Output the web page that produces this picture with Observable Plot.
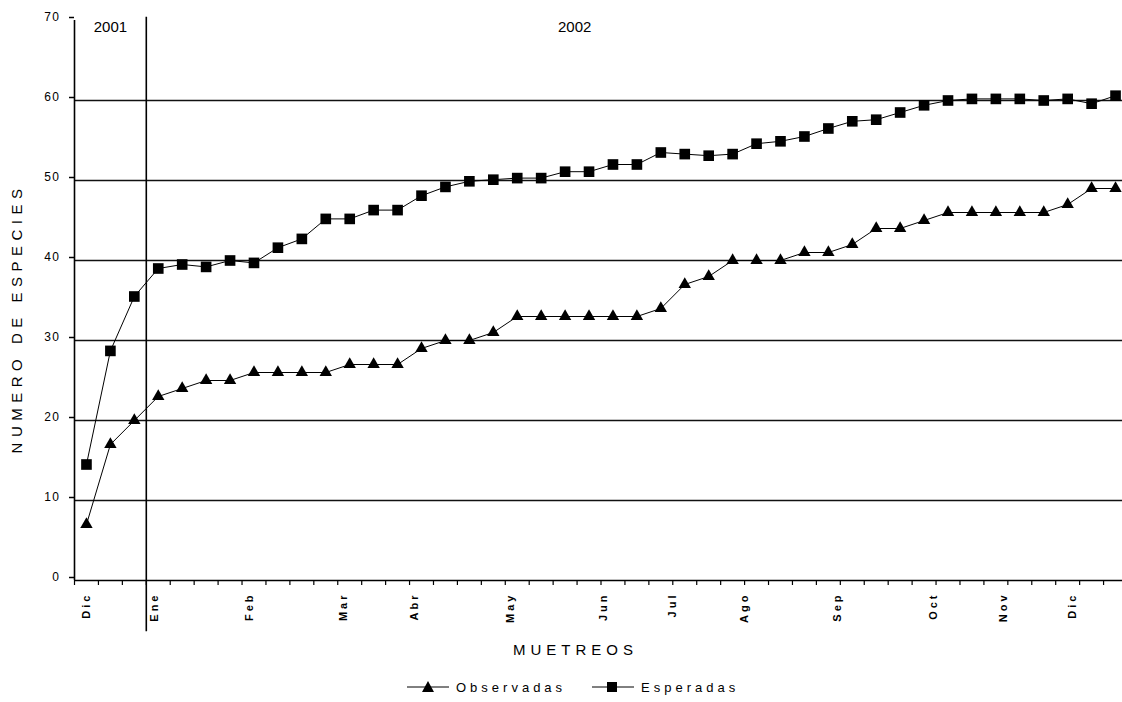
<!DOCTYPE html>
<html>
<head>
<meta charset="utf-8">
<script src="https://cdn.jsdelivr.net/npm/d3@7"></script>
<script src="https://cdn.jsdelivr.net/npm/@observablehq/plot@0.6"></script>
<style>
  html, body { margin: 0; padding: 0; background: #fff; overflow: hidden; }
  #wrap { position: relative; width: 1122px; height: 702px; font-family: "Liberation Sans", Arial, sans-serif; color: #000; }
  #chart svg { display: block; overflow: hidden; }
  .xt { position: absolute; left: 513px; top: 642px; font-size: 15px; line-height: 15px; letter-spacing: 5px; white-space: nowrap; }
  .lg { position: absolute; top: 681px; font-size: 13px; line-height: 13px; letter-spacing: 4px; white-space: nowrap; }
  .sym { position: absolute; top: 680px; }
</style>
</head>
<body>
<div id="wrap">
  <div id="chart"></div>
  <div class="xt">MUETREOS</div>
  <svg class="sym" style="left:405px" width="46" height="14"><line x1="2" x2="44" y1="7" y2="7" stroke="#000" stroke-width="1"/><path d="M23,1 L29,12 L17,12 Z" fill="#000"/></svg>
  <div class="lg" style="left:456px">Observadas</div>
  <svg class="sym" style="left:590px" width="46" height="14"><line x1="2" x2="44" y1="7" y2="7" stroke="#000" stroke-width="1"/><rect x="17" y="2" width="10" height="10" fill="#000"/></svg>
  <div class="lg" style="left:641px">Esperadas</div>
</div>
<script>
// Sampling events (category index) and series values
const sampleIndex = [0,1,2,3,4,5,6,7,8,9,10,11,12,13,14,15,16,17,18,19,20,21,22,23,24,25,26,27,28,29,30,31,32,33,34,35,36,37,38,39,40,41,42,43];
const observadas = [7,17,20,23,24,25,25,26,26,26,26,27,27,27,29,30,30,31,33,33,33,33,33,33,34,37,38,40,40,40,41,41,42,44,44,45,46,46,46,46,46,47,49,49];
const esperadas = [14.5,28.7,35.5,39,39.5,39.2,40,39.7,41.6,42.7,45.2,45.2,46.3,46.3,48.1,49.2,49.9,50.1,50.3,50.3,51.1,51.1,52,52,53.5,53.3,53.1,53.3,54.6,54.9,55.5,56.5,57.4,57.6,58.5,59.4,60,60.2,60.2,60.2,60,60.2,59.6,60.6];

// Month tick labels and their positions along the sample axis
const monthLabels = ["Dic","Ene","Feb","Mar","Abr","May","Jun","Jul","Ago","Sep","Oct","Nov","Dic"];
const monthPositions = [0, 2.84, 6.81, 10.74, 13.7, 17.7, 21.6, 24.5, 27.5, 31.4, 35.4, 38.3, 41.2];

// Year labels
const yearLabels = ["2001", "2002"];
const yearPositions = [1.0, 20.4];
const yearBoundary = 2.5;

// Y axis ticks and grid
const yTicks = [0,10,20,30,40,50,60,70];
const gridValues = [10,20,30,40,50,60];

const xTicks = sampleIndex.map(i => i - 0.5).concat([sampleIndex.length - 0.5]);

const obsData = sampleIndex.map((i, k) => ({i, v: observadas[k]}));
const espData = sampleIndex.map((i, k) => ({i, v: esperadas[k]}));
const months = monthLabels.map((label, k) => ({label, pos: monthPositions[k]}));
const years = yearLabels.map((label, k) => ({label, pos: yearPositions[k]}));

const plot = Plot.plot({
  width: 1122,
  height: 640,
  marginLeft: 74,
  marginRight: -5,
  marginTop: 20,
  marginBottom: 60,
  x: {domain: [-0.5, 43.5], axis: null},
  y: {domain: [0, 70], axis: null},
  style: {fontFamily: "'Liberation Sans', Arial, sans-serif", color: "#000", background: "#fff"},
  marks: [
    Plot.ruleY(gridValues, {stroke: "#111", strokeWidth: 1.6}),
    Plot.ruleY([0], {stroke: "#000", strokeWidth: 1.6}),
    Plot.ruleX([-0.5], {y1: 0, y2: 70, stroke: "#000", strokeWidth: 1.6}),
    Plot.ruleX([yearBoundary], {y1: -6.4, y2: 70.4, stroke: "#000", strokeWidth: 1.6}),
    Plot.axisY(yTicks, {tickSize: 5, tickPadding: 9, fontSize: 12, dy: -3, label: null, strokeWidth: 1.5}),
    Plot.axisX(xTicks, {tickSize: 5, tickFormat: () => "", label: null, strokeWidth: 1.2}),
    Plot.text(months, {x: "pos", text: "label", frameAnchor: "bottom", rotate: -90, textAnchor: "end", lineAnchor: "middle", dy: 12, fontSize: 11, fontWeight: "bold"}),
    Plot.text(years, {x: "pos", text: "label", frameAnchor: "top", lineAnchor: "top", dy: 1, fontSize: 15}),
    Plot.text(["NUMERO DE ESPECIES"], {frameAnchor: "left", textAnchor: "middle", dx: -57, dy: 18, rotate: -90, fontSize: 15}),
    Plot.line(espData, {x: "i", y: "v", stroke: "#000", strokeWidth: 1}),
    Plot.line(obsData, {x: "i", y: "v", stroke: "#000", strokeWidth: 1}),
    Plot.dot(espData, {x: "i", y: "v", symbol: "square", r: 6, fill: "#000", stroke: "none"}),
    Plot.dot(obsData, {x: "i", y: "v", symbol: "triangle", r: 4.6, fill: "#000", stroke: "none"})
  ]
});
document.getElementById("chart").appendChild(plot);
const setSpacing = (el, v) => { if (el) { el.style.letterSpacing = v; el.setAttribute("letter-spacing", v); el.querySelectorAll("text").forEach(t => { t.style.letterSpacing = v; }); } };
const textGroups = plot.querySelectorAll('g[aria-label="text"]');
setSpacing(textGroups[0], "3px");
setSpacing(textGroups[2], "5.5px");
plot.querySelectorAll('g[aria-label="y-axis tick label"]').forEach(g => setSpacing(g, "1.5px"));
</script>
</body>
</html>
